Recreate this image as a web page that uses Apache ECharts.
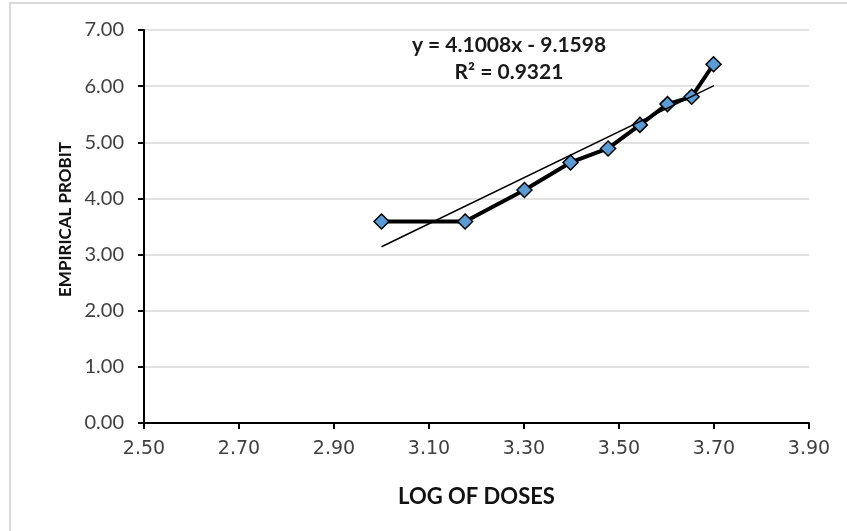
<!DOCTYPE html>
<html>
<head>
<meta charset="utf-8">
<script src="https://cdn.jsdelivr.net/npm/echarts@6/dist/echarts.min.js"></script>
<style>
  html, body { margin: 0; padding: 0; background: #fff; }
  #chart { width: 847px; height: 531px; }
</style>
</head>
<body>
<div id="chart"></div>
<script>
// log of doses and empirical probit values
const logDoses = [3.000, 3.176, 3.301, 3.398, 3.477, 3.544, 3.602, 3.653, 3.699];
const probits = [3.59, 3.59, 4.15, 4.64, 4.89, 5.31, 5.68, 5.81, 6.39];
// linear trendline ends
const trendX = [3.00, 3.70];
const trendY = [3.14, 6.01];
// tick labels
const xTicks = [2.5, 2.7, 2.9, 3.1, 3.3, 3.5, 3.7, 3.9];
const yTicks = [0, 1, 2, 3, 4, 5, 6, 7];
const equationText = 'y = 4.1008x - 9.1598';
const r2Text = 'R² = 0.9321';

const chart = echarts.init(document.getElementById('chart'));

const option = {
  animation: false,
  grid: {
    left: 144,
    right: 38,
    top: 30,
    bottom: 108
  },
  graphic: [
    {
      type: 'rect',
      shape: { x: 10, y: 3, width: 900, height: 600 },
      style: { fill: 'none', stroke: '#d9d9d9', lineWidth: 2 },
      silent: true
    },
    {
      type: 'text',
      left: 409,
      top: 32,
      style: {
        text: equationText + '\n' + r2Text,
        font: 'bold 21px Lato',
        fill: '#1a1a1a',
        textAlign: 'center',
        lineHeight: 27,
        width: 200
      }
    }
  ],
  xAxis: {
    type: 'value',
    min: xTicks[0],
    max: xTicks[xTicks.length - 1],
    name: 'LOG OF DOSES',
    nameLocation: 'middle',
    nameGap: 63,
    nameTextStyle: {
      fontFamily: 'Lato',
      fontWeight: 'bold',
      fontSize: 22,
      color: '#111'
    },
    axisLine: { lineStyle: { color: '#000', width: 2 } },
    axisTick: {
      show: true,
      inside: false,
      length: 6,
      customValues: xTicks,
      lineStyle: { color: '#000', width: 2 }
    },
    axisLabel: {
      customValues: xTicks,
      margin: 17,
      fontFamily: 'DejaVu Sans',
      fontSize: 19,
      color: '#404040',
      formatter: (v) => v.toFixed(2)
    },
    splitLine: { show: false }
  },
  yAxis: {
    type: 'value',
    min: yTicks[0],
    max: yTicks[yTicks.length - 1],
    interval: 1,
    name: 'EMPIRICAL PROBIT',
    nameLocation: 'middle',
    nameGap: 70,
    nameTextStyle: {
      fontFamily: 'Lato',
      fontWeight: 'bold',
      fontSize: 17,
      color: '#111',
      padding: [0, 0, 0, 14]
    },
    axisLine: { show: true, lineStyle: { color: '#000', width: 2 } },
    axisTick: {
      show: true,
      inside: false,
      length: 6,
      lineStyle: { color: '#000', width: 2 }
    },
    axisLabel: {
      margin: 20,
      fontFamily: 'Lato',
      fontSize: 20,
      color: '#404040',
      formatter: (v) => v.toFixed(2)
    },
    splitLine: { show: true, lineStyle: { color: '#d9d9d9', width: 1.5 } }
  },
  series: [
    {
      type: 'line',
      data: logDoses.map((x, i) => [x, probits[i]]),
      symbol: 'diamond',
      symbolSize: 15,
      lineStyle: { color: '#000', width: 4 },
      itemStyle: { color: '#5b9bd5', borderColor: '#000', borderWidth: 1.5 },
      z: 3
    },
    {
      type: 'line',
      data: trendX.map((x, i) => [x, trendY[i]]),
      symbol: 'none',
      lineStyle: { color: '#000', width: 1.5 },
      z: 4
    }
  ]
};

chart.setOption(option);
</script>
</body>
</html>
